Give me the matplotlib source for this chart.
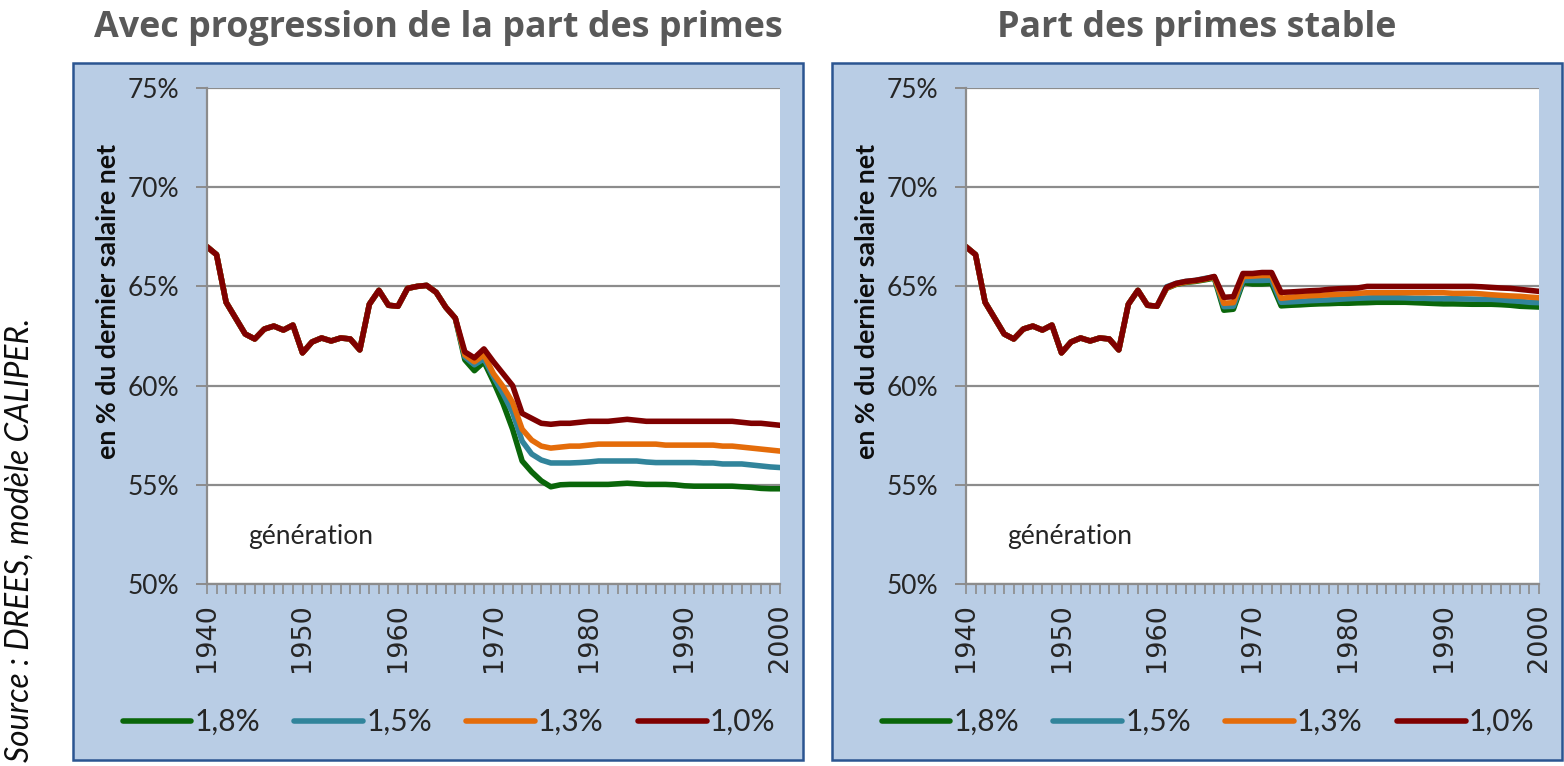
import matplotlib
matplotlib.use('Agg')
import matplotlib.pyplot as plt
from matplotlib.patches import Rectangle
from matplotlib.ticker import MultipleLocator, FuncFormatter
import numpy as np

plt.rcParams['font.family'] = ['Lato', 'DejaVu Sans']

years = np.arange(1940, 2001)
labels = ['1,8%', '1,5%', '1,3%', '1,0%']
colors = ['#0A660A', '#31849B', '#E46C0A', '#7F0000']

# 1940-1960, same values in both charts
head = [67.0, 66.6, 64.2, 63.4, 62.6, 62.35, 62.85, 63.0, 62.8, 63.05,
        61.65, 62.2, 62.4, 62.25, 62.4, 62.35, 61.8, 64.1, 64.8, 64.05,
        64.0]

# left chart: 1961-1966 shared, then 1967-2000 per scenario
left_mid = [64.9, 65.0, 65.05, 64.7, 63.95, 63.4]
green_l = [61.3, 60.75, 61.2, 60.2, 59.1, 57.8, 56.2, 55.65, 55.2, 54.9,
           55.0, 55.02, 55.02, 55.02, 55.02, 55.02, 55.05, 55.08, 55.05, 55.02,
           55.02, 55.02, 55.0, 54.95, 54.93, 54.93, 54.93, 54.93, 54.93, 54.9,
           54.87, 54.82, 54.8, 54.8]
teal_l = [61.45, 61.05, 61.35, 60.45, 59.6, 58.65, 57.2, 56.55, 56.25, 56.1,
          56.1, 56.1, 56.12, 56.15, 56.2, 56.2, 56.2, 56.2, 56.2, 56.15,
          56.12, 56.12, 56.12, 56.12, 56.12, 56.1, 56.1, 56.05, 56.05, 56.05,
          56.0, 55.95, 55.9, 55.87]
orange_l = [61.55, 61.2, 61.55, 60.6, 59.95, 59.15, 57.8, 57.25, 56.95, 56.85,
            56.9, 56.95, 56.95, 57.0, 57.05, 57.05, 57.05, 57.05, 57.05, 57.05,
            57.05, 57.0, 57.0, 57.0, 57.0, 57.0, 57.0, 56.95, 56.95, 56.9,
            56.85, 56.8, 56.75, 56.7]
red_l = [61.7, 61.4, 61.85, 61.2, 60.6, 60.0, 58.6, 58.35, 58.1, 58.05,
         58.1, 58.1, 58.15, 58.2, 58.2, 58.2, 58.25, 58.3, 58.25, 58.2,
         58.2, 58.2, 58.2, 58.2, 58.2, 58.2, 58.2, 58.2, 58.2, 58.15,
         58.1, 58.1, 58.05, 58.0]

# right chart: 1961-2000 per scenario
green_r = [64.9, 65.1, 65.2, 65.25, 65.33, 65.42, 63.8, 63.85, 65.2, 65.12,
           65.12, 65.15, 64.02, 64.05, 64.07, 64.1, 64.12, 64.13, 64.15, 64.15,
           64.17, 64.18, 64.2, 64.2, 64.2, 64.2, 64.18, 64.16, 64.14, 64.12,
           64.12, 64.11, 64.1, 64.1, 64.1, 64.08, 64.05, 64.0, 63.98, 63.96]
teal_r = [64.98, 65.15, 65.25, 65.3, 65.4, 65.48, 63.98, 64.0, 65.3, 65.3,
          65.3, 65.32, 64.2, 64.22, 64.25, 64.28, 64.3, 64.32, 64.35, 64.38,
          64.4, 64.42, 64.43, 64.43, 64.43, 64.42, 64.4, 64.4, 64.38, 64.38,
          64.38, 64.37, 64.36, 64.35, 64.35, 64.32, 64.28, 64.25, 64.2, 64.18]
orange_r = [64.92, 65.12, 65.22, 65.28, 65.36, 65.47, 64.15, 64.18, 65.5, 65.52,
            65.55, 65.55, 64.4, 64.45, 64.5, 64.53, 64.55, 64.58, 64.6, 64.62,
            64.65, 64.68, 64.68, 64.68, 64.68, 64.68, 64.68, 64.68, 64.68, 64.68,
            64.65, 64.65, 64.65, 64.62, 64.58, 64.55, 64.52, 64.5, 64.46, 64.43]
red_r = [64.95, 65.15, 65.25, 65.3, 65.38, 65.5, 64.45, 64.48, 65.65, 65.65,
         65.7, 65.7, 64.7, 64.72, 64.75, 64.78, 64.8, 64.85, 64.88, 64.9,
         64.92, 65.0, 65.0, 65.0, 65.0, 65.0, 65.0, 65.0, 65.0, 65.0,
         65.0, 65.0, 65.0, 64.98, 64.95, 64.92, 64.9, 64.85, 64.8, 64.75]

left_series = [head + left_mid + s for s in (green_l, teal_l, orange_l, red_l)]
right_series = [head + s for s in (green_r, teal_r, orange_r, red_r)]

W, H = 1564, 766
GRID = '#8C8C8C'


def fx(px):
    return px / W


def fy(py):
    return 1 - py / H


fig = plt.figure(figsize=(W / 100, H / 100), dpi=100)

# blue panels behind each chart
for x0 in (73, 832):
    fig.patches.append(Rectangle((fx(x0), fy(760)), 730 / W, 697 / H,
                                 transform=fig.transFigure, facecolor='#B9CDE5',
                                 edgecolor='#2B5591', lw=1.8, zorder=-5))

titles = ['Avec progression de la part des primes', 'Part des primes stable']
title_x = [438, 1197]
ax_left = [207, 966]
legend_x = [449, 1208]

for k, series in enumerate((left_series, right_series)):
    ax = fig.add_axes([fx(ax_left[k]), fy(584), 573 / W, 496 / H])
    ax.set_zorder(2)
    for vals, c, lab in zip(series, colors, labels):
        ax.plot(years, vals, color=c, lw=4.0, label=lab,
                solid_capstyle='round', solid_joinstyle='round')
    ax.set_xlim(1940, 2000)
    ax.set_ylim(50, 75)
    ax.yaxis.set_major_locator(MultipleLocator(5))
    ax.yaxis.set_major_formatter(FuncFormatter(lambda v, p: f'{v:.0f}%'))
    ax.xaxis.set_major_locator(MultipleLocator(10))
    ax.xaxis.set_minor_locator(MultipleLocator(1))
    ax.grid(axis='y', color=GRID, lw=1.6)
    ax.set_axisbelow(True)
    for side in ('top', 'right'):
        ax.spines[side].set_visible(False)
    for side in ('left', 'bottom'):
        ax.spines[side].set_color(GRID)
        ax.spines[side].set_linewidth(1.6)
    ax.tick_params(axis='y', which='major', direction='out', length=8, width=1.4,
                   color=GRID, labelsize=19, labelcolor='#262626', pad=12)
    ax.tick_params(axis='x', which='both', direction='out', length=7, width=1.2,
                   color=GRID)
    ax.tick_params(axis='x', which='major', labelsize=19.5, labelcolor='#262626',
                   labelrotation=90, pad=7)
    for t in ax.get_xticklabels():
        t.set_fontfamily('DejaVu Sans')
    ax.set_ylabel('en % du dernier salaire net', fontsize=19.3, fontweight='bold',
                  color='#0D0D0D', labelpad=2)
    ax.yaxis.set_label_coords(-0.152, 0.57)
    ax.text(0.0716, 0.095, 'génération', transform=ax.transAxes, fontsize=19,
            color='#262626', ha='left', va='center')

    fig.text(fx(title_x[k]), fy(28), titles[k], fontfamily='Open Sans',
             fontweight='bold', fontsize=25.8, color='#595959',
             ha='center', va='center')

    handles, labs = ax.get_legend_handles_labels()
    fig.legend(handles, labs, loc='center', bbox_to_anchor=(fx(legend_x[k]), fy(722)),
               ncol=4, frameon=False, handlelength=2.3, handletextpad=0.1,
               columnspacing=1.15, fontsize=21.5, labelcolor='#262626')

fig.text(fx(20), fy(540), 'Source : DREES, modèle CALIPER.', rotation=90,
         style='italic', fontsize=22.8, color='#0D0D0D', ha='center', va='center')

fig.savefig('out.png', dpi=100)
